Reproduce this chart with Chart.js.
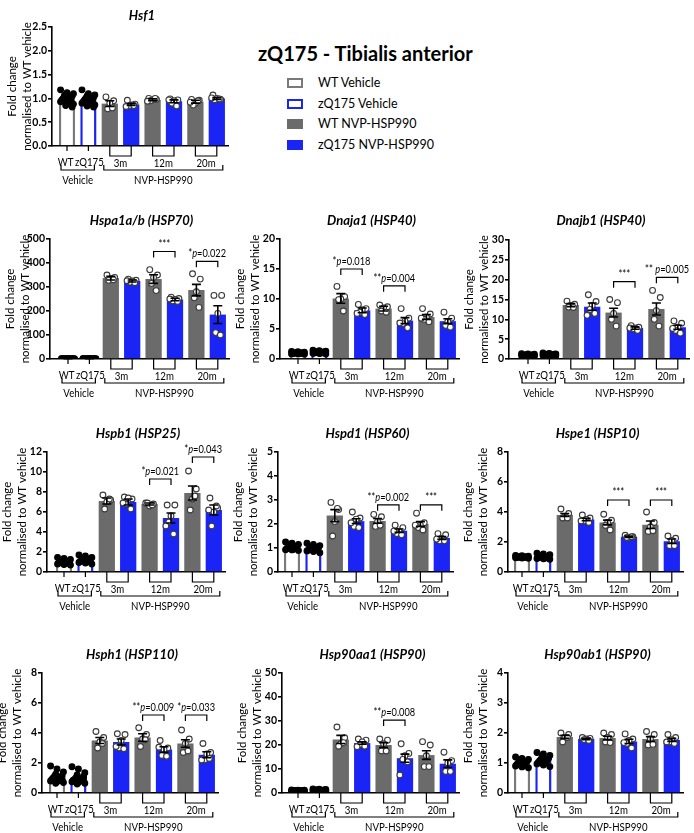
<!DOCTYPE html>
<html>
<head>
<meta charset="utf-8">
<title>zQ175 - Tibialis anterior</title>
<script src="https://cdn.jsdelivr.net/npm/chart.js@4.4.1/dist/chart.umd.min.js"></script>
<style>
  body { margin: 0; background: #fff; }
  #page { position: relative; width: 694px; height: 833px; overflow: hidden; font-family: Lato, "Open Sans", sans-serif; }
  #page canvas { position: absolute; }
  #main-title { position: absolute; left: 258px; top: 41px; font-size: 20px; font-weight: bold; line-height: 24px; color: #000; white-space: nowrap; }
  .lg-box { position: absolute; left: 287px; width: 16px; height: 10px; box-sizing: border-box; }
  .lg-text { position: absolute; left: 318px; font-size: 12.5px; line-height: 16px; color: #000; white-space: nowrap; }
</style>
</head>
<body>
<div id="page">
  <div id="main-title">zQ175 - Tibialis anterior</div>
</div>
<script>
// categories / labels
const groupLabels = ['WT', 'zQ175'];
const ageLabels = ['3m', '12m', '20m'];
const treatLabels = ['Vehicle', 'NVP-HSP990'];
const legendLabels = ['WT Vehicle', 'zQ175 Vehicle', 'WT NVP-HSP990', 'zQ175 NVP-HSP990'];
const geneTitles = ['Hsf1', 'Hspa1a/b (HSP70)', 'Dnaja1 (HSP40)', 'Dnajb1 (HSP40)', 'Hspb1 (HSP25)',
  'Hspd1 (HSP60)', 'Hspe1 (HSP10)', 'Hsph1 (HSP110)', 'Hsp90aa1 (HSP90)', 'Hsp90ab1 (HSP90)'];
const yMaxes = [2.5, 500, 20, 30, 12, 5, 8, 8, 50, 4];
const ySteps = [0.5, 100, 5, 5, 2, 1, 2, 2, 10, 1];

// bar order: WT veh, zQ175 veh, WT 3m, zQ 3m, WT 12m, zQ 12m, WT 20m, zQ 20m
// stats: [age index, bracket height, label]
const hsf1Mean = [1.00, 0.97, 0.89, 0.87, 0.97, 0.94, 0.93, 1.00];
const hsf1Sem = [0.02, 0.02, 0.06, 0.02, 0.02, 0.03, 0.03, 0.02];
const hsf1Pts = [
  [1.18, 1.12, 1.10, 1.08, 1.05, 1.03, 1.02, 1.00, 0.99, 0.97, 0.95, 0.93, 0.90, 0.88, 0.85, 0.82, 1.06, 0.96],
  [1.18, 1.10, 1.07, 1.05, 1.02, 1.00, 0.98, 0.97, 0.95, 0.93, 0.92, 0.90, 0.88, 0.86, 0.84, 0.82, 1.00, 0.96],
  [1.03, 0.95, 0.90, 0.78, 0.80],
  [0.96, 0.88, 0.86, 0.84, 0.85, 0.83],
  [1.00, 0.98, 0.97, 0.95, 1.00, 0.94],
  [0.99, 0.97, 0.95, 0.90, 0.84, 0.97],
  [0.98, 0.96, 0.90, 0.86, 0.95, 0.92],
  [1.07, 0.98, 1.00, 0.97, 0.99, 1.01]
];
const hsf1Stats = [];

const hspa1Mean = [1, 1, 337, 325, 333, 248, 287, 185];
const hspa1Sem = [0.05, 0.05, 8, 4, 18, 5, 24, 37];
const hspa1Pts = [
  [1.4, 1.3, 1.2, 1.15, 1.1, 1.05, 1.0, 1.0, 0.95, 0.9, 0.85, 0.8, 0.7, 0.6],
  [1.6, 1.5, 1.4, 1.3, 1.25, 1.2, 1.1, 1.1, 1.05, 1.0, 0.95, 0.9, 0.8, 0.7],
  [350, 340, 335, 328, 330],
  [333, 328, 325, 320, 318, 326],
  [372, 350, 340, 315, 285],
  [258, 252, 248, 242, 240, 250],
  [355, 333, 280, 255, 215],
  [265, 265, 190, 110, 100]
];
const hspa1Stats = [[1, 448, '***'], [2, 407, '*p=0.022']];

const dnaja1Mean = [1.0, 1.1, 10.1, 8.1, 8.4, 6.4, 7.0, 6.3];
const dnaja1Sem = [0.03, 0.04, 0.8, 0.4, 0.4, 0.5, 0.4, 0.4];
const dnaja1Pts = [
  [1.25, 1.2, 1.15, 1.1, 1.05, 1.0, 1.0, 0.98, 0.95, 0.92, 0.9, 0.85, 0.82, 0.8],
  [1.45, 1.4, 1.3, 1.25, 1.2, 1.15, 1.1, 1.1, 1.05, 1.0, 1.0, 0.95, 0.9, 0.85],
  [12.1, 10.4, 10.0, 9.9, 8.0],
  [9.1, 8.4, 8.2, 7.8, 7.4, 7.6],
  [9.0, 8.7, 8.5, 8.0, 7.8],
  [8.4, 6.8, 6.3, 5.9, 5.2, 6.0],
  [8.4, 7.5, 7.0, 6.6, 6.2, 6.8],
  [7.8, 6.8, 6.2, 5.6, 5.3]
];
const dnaja1Stats = [[0, 15.0, '*p=0.018'], [1, 12.2, '**p=0.004']];

const dnajb1Mean = [1.0, 1.1, 13.6, 13.2, 11.7, 7.8, 12.6, 8.0];
const dnajb1Sem = [0.04, 0.05, 0.4, 0.9, 1.1, 0.3, 1.5, 0.5];
const dnajb1Pts = [
  [1.35, 1.25, 1.2, 1.1, 1.05, 1.0, 1.0, 0.95, 0.95, 0.9, 0.85, 0.8, 0.75, 0.7],
  [1.5, 1.4, 1.3, 1.25, 1.2, 1.15, 1.1, 1.1, 1.05, 1.0, 0.95, 0.9, 0.85, 0.8],
  [14.6, 13.8, 13.5, 13.1, 13.0],
  [16.2, 14.5, 13.5, 12.5, 11.5, 11.0],
  [15.0, 14.2, 11.5, 10.0, 8.3],
  [8.4, 8.0, 7.8, 7.6, 7.2, 7.8],
  [17.3, 15.5, 12.2, 10.0, 8.3],
  [9.6, 9.0, 8.0, 7.2, 6.5, 7.7]
];
const dnajb1Stats = [[1, 19.5, '***'], [2, 20.6, '** p=0.005']];

const hspb1Mean = [1.0, 1.15, 7.1, 7.0, 6.8, 5.4, 7.9, 6.2];
const hspb1Sem = [0.05, 0.06, 0.3, 0.3, 0.1, 0.5, 0.7, 0.5];
const hspb1Pts = [
  [1.45, 1.35, 1.25, 1.2, 1.1, 1.05, 1.0, 1.0, 0.95, 0.9, 0.85, 0.8, 0.75, 0.7],
  [1.7, 1.6, 1.45, 1.35, 1.3, 1.25, 1.2, 1.15, 1.1, 1.05, 1.0, 0.95, 0.9, 0.8],
  [7.7, 7.2, 7.0, 6.3, 7.3],
  [7.5, 7.3, 7.4, 6.8, 6.3, 6.9],
  [6.9, 6.8, 6.6, 6.9, 6.7],
  [6.7, 6.7, 5.6, 5.0, 3.8, 4.6],
  [10.1, 8.3, 7.3, 6.2, 7.6],
  [7.4, 6.4, 6.0, 4.6, 6.6, 6.2]
];
const hspb1Stats = [[1, 9.3, '*p=0.021'], [2, 11.5, '*p=0.043']];

const hspd1Mean = [1.03, 0.98, 2.35, 2.12, 2.13, 1.72, 2.0, 1.42];
const hspd1Sem = [0.02, 0.03, 0.25, 0.1, 0.1, 0.07, 0.1, 0.06];
const hspd1Pts = [
  [1.25, 1.2, 1.15, 1.1, 1.08, 1.05, 1.03, 1.0, 1.0, 0.98, 0.95, 0.93, 0.92, 0.9],
  [1.2, 1.15, 1.1, 1.05, 1.03, 1.0, 1.0, 0.98, 0.95, 0.92, 0.9, 0.88, 0.85, 0.8],
  [2.9, 2.6, 2.1, 1.5, 2.65],
  [2.5, 2.25, 2.2, 1.9, 1.85, 2.05],
  [2.4, 2.3, 2.1, 1.9, 1.95],
  [1.95, 1.85, 1.7, 1.6, 1.55, 1.7],
  [2.45, 2.05, 1.95, 1.85, 1.75, 1.95],
  [1.6, 1.55, 1.4, 1.3, 1.3, 1.37]
];
const hspd1Stats = [[1, 2.8, '**p=0.002'], [2, 2.8, '***']];

const hspe1Mean = [1.0, 1.02, 3.8, 3.5, 3.3, 2.35, 3.15, 2.05];
const hspe1Sem = [0.01, 0.03, 0.1, 0.08, 0.16, 0.04, 0.25, 0.15];
const hspe1Pts = [
  [1.1, 1.08, 1.05, 1.03, 1.02, 1.0, 1.0, 0.99, 0.98, 0.97, 0.96, 0.95, 0.93, 0.92],
  [1.25, 1.2, 1.15, 1.1, 1.05, 1.03, 1.0, 1.0, 0.98, 0.95, 0.92, 0.9, 0.88, 0.85],
  [4.2, 3.9, 3.7, 3.6, 3.6],
  [3.8, 3.6, 3.5, 3.4, 3.3, 3.4],
  [3.85, 3.45, 3.3, 3.1, 2.8],
  [2.45, 2.35, 2.3, 2.3, 2.35],
  [4.0, 3.3, 3.0, 2.7, 2.75],
  [2.4, 2.25, 2.1, 1.75, 1.75]
];
const hspe1Stats = [[1, 4.8, '***'], [2, 4.8, '***']];

const hsph1Mean = [1.05, 0.98, 3.5, 3.4, 3.7, 2.9, 3.3, 2.55];
const hsph1Sem = [0.06, 0.06, 0.2, 0.2, 0.25, 0.18, 0.25, 0.2];
const hsph1Pts = [
  [1.8, 1.6, 1.4, 1.25, 1.15, 1.1, 1.05, 1.0, 0.95, 0.9, 0.85, 0.8, 0.75, 0.7, 0.65, 0.9],
  [1.75, 1.6, 1.35, 1.2, 1.1, 1.0, 0.95, 0.9, 0.9, 0.85, 0.8, 0.75, 0.7, 0.65, 0.6, 0.95],
  [4.1, 3.7, 3.4, 3.0, 3.3],
  [3.95, 3.9, 3.5, 3.0, 2.95, 3.1],
  [4.35, 3.9, 3.6, 3.1, 3.55],
  [3.5, 3.0, 2.9, 2.5, 2.45, 3.05],
  [4.2, 3.6, 3.3, 2.7, 2.8],
  [3.3, 2.7, 2.6, 2.2, 2.3, 2.2]
];
const hsph1Stats = [[1, 5.2, '**p=0.009'], [2, 5.2, '*p=0.033']];

const hsp90aa1Mean = [1.0, 1.2, 22.3, 20.8, 20.0, 14.5, 15.8, 12.2];
const hsp90aa1Sem = [0.05, 0.08, 1.7, 0.5, 1.0, 1.7, 1.8, 1.6];
const hsp90aa1Pts = [
  [1.3, 1.2, 1.15, 1.1, 1.05, 1.0, 1.0, 0.95, 0.95, 0.9, 0.85, 0.8, 0.75, 0.7],
  [1.7, 1.55, 1.45, 1.35, 1.3, 1.25, 1.2, 1.15, 1.1, 1.05, 1.0, 0.95, 0.9, 0.85],
  [27.5, 23.0, 20.5, 19.5, 21.0],
  [22.5, 22.0, 21.3, 20.2, 19.5, 19.3],
  [22.5, 22.0, 20.5, 17.5, 17.5],
  [20.5, 16.5, 15.5, 14.0, 13.0, 7.5],
  [21.4, 20.0, 15.5, 11.0, 11.0],
  [17.0, 13.5, 12.5, 9.0, 9.0]
];
const hsp90aa1Stats = [[1, 30.4, '**p=0.008']];

const hsp90ab1Mean = [1.02, 1.08, 1.87, 1.80, 1.83, 1.72, 1.80, 1.77];
const hsp90ab1Sem = [0.02, 0.03, 0.05, 0.02, 0.06, 0.07, 0.08, 0.05];
const hsp90ab1Pts = [
  [1.2, 1.15, 1.12, 1.1, 1.07, 1.05, 1.03, 1.0, 0.98, 0.95, 0.92, 0.9, 0.87, 0.84],
  [1.35, 1.3, 1.25, 1.2, 1.15, 1.12, 1.1, 1.07, 1.05, 1.02, 1.0, 0.97, 0.93, 0.88],
  [2.0, 1.95, 1.85, 1.7, 1.85],
  [1.85, 1.82, 1.8, 1.78, 1.75],
  [2.0, 1.95, 1.85, 1.7, 1.68],
  [1.97, 1.8, 1.75, 1.65, 1.5, 1.68],
  [2.05, 1.95, 1.8, 1.6, 1.62],
  [1.95, 1.85, 1.78, 1.7, 1.65, 1.7]
];
const hsp90ab1Stats = [];

// colours
const GRAY = '#6b6b6b';
const EDGE_GRAY = '#7a7a7a';
const BLUE = '#1a24f4';
const FONT = 'Lato, "Open Sans", sans-serif';
const SQUEEZE = 0.88; // the original font is narrower than Lato

// page layout of each panel: y-axis x, first bar x, plot top, plot bottom, title y
const boxes = [
  [52, 67, 27, 146, 16],
  [50, 68, 239, 359, 221],
  [280, 298, 239, 359, 221],
  [509, 528, 240, 359, 221],
  [47, 64, 452, 572, 434],
  [278, 292, 452, 572, 434],
  [508, 522, 452, 572, 434],
  [42, 57, 673, 793, 655],
  [282, 298, 673, 793, 655],
  [508, 522, 673, 793, 655]
];

const panels = [
  [hsf1Mean, hsf1Sem, hsf1Pts, hsf1Stats],
  [hspa1Mean, hspa1Sem, hspa1Pts, hspa1Stats],
  [dnaja1Mean, dnaja1Sem, dnaja1Pts, dnaja1Stats],
  [dnajb1Mean, dnajb1Sem, dnajb1Pts, dnajb1Stats],
  [hspb1Mean, hspb1Sem, hspb1Pts, hspb1Stats],
  [hspd1Mean, hspd1Sem, hspd1Pts, hspd1Stats],
  [hspe1Mean, hspe1Sem, hspe1Pts, hspe1Stats],
  [hsph1Mean, hsph1Sem, hsph1Pts, hsph1Stats],
  [hsp90aa1Mean, hsp90aa1Sem, hsp90aa1Pts, hsp90aa1Stats],
  [hsp90ab1Mean, hsp90ab1Sem, hsp90ab1Pts, hsp90ab1Stats]
];

Chart.defaults.font.family = FONT;
Chart.defaults.color = '#000';

const page = document.getElementById('page');

// legend
const legendFill = ['#fff', '#fff', GRAY, BLUE];
const legendEdge = [EDGE_GRAY, BLUE, GRAY, BLUE];
legendLabels.forEach((txt, i) => {
  const cy = 83 + i * 20.5;
  const b = document.createElement('div');
  b.className = 'lg-box';
  b.style.top = (cy - 5) + 'px';
  b.style.background = legendFill[i];
  b.style.border = '2px solid ' + legendEdge[i];
  page.appendChild(b);
  const t = document.createElement('div');
  t.className = 'lg-text';
  t.style.top = (cy - 8) + 'px';
  t.textContent = txt;
  page.appendChild(t);
});

// horizontal spread of the dots inside a bar
function jitter(j, vehicle) {
  if (vehicle) return (((j * 5) % 11) - 5) * 0.06;
  const pattern = [-0.18, 0.18, 0.0, -0.1, 0.12, -0.24, 0.24];
  return pattern[j % pattern.length];
}

// centred text, squeezed a little horizontally
function squeezedText(ctx, text, cx, cy, font) {
  ctx.save();
  ctx.translate(cx, cy);
  ctx.scale(SQUEEZE, 1);
  ctx.font = font;
  ctx.textAlign = 'center';
  ctx.textBaseline = 'middle';
  ctx.fillText(text, 0, 0);
  ctx.restore();
}

// "*p=0.022" -> stars normal, p italic, rest normal
function drawStatLabel(ctx, text, cx, y, size) {
  const m = text.match(/^(\*+\s?)(p?)(.*)$/);
  const runs = [[m[1], 'normal'], [m[2], 'italic'], [m[3], 'normal']];
  let total = 0;
  runs.forEach(r => {
    ctx.font = r[1] + ' ' + size + 'px ' + FONT;
    r.push(ctx.measureText(r[0]).width);
    total += r[2];
  });
  ctx.save();
  ctx.translate(cx, y);
  ctx.scale(SQUEEZE, 1);
  let x = -total / 2;
  ctx.textAlign = 'left';
  ctx.textBaseline = 'bottom';
  runs.forEach(r => {
    ctx.font = r[1] + ' ' + size + 'px ' + FONT;
    ctx.fillText(r[0], x, 0);
    x += r[2];
  });
  ctx.restore();
}

function buildPanel(k) {
  const [means, sems, pts, stats] = panels[k];
  const [axisX, firstX, top, bottom, titleY] = boxes[k];
  const unit = 21.4;
  const L = 50, T = 30, B = 50, R = 6;
  const plotW = Math.round(firstX + 7.5 * unit - axisX);
  const xMin = -(firstX - axisX) / unit;
  const xMax = xMin + plotW / unit;

  const cv = document.createElement('canvas');
  cv.width = plotW + L + R;
  cv.height = (bottom - top) + T + B;
  cv.style.left = (axisX - L) + 'px';
  cv.style.top = (top - T) + 'px';
  cv.style.width = cv.width + 'px';
  cv.style.height = cv.height + 'px';
  page.appendChild(cv);

  const barData = means.map((m, i) => ({x: i, y: m}));
  const dotData = [], dotBg = [], dotEdge = [];
  pts.forEach((vals, i) => {
    const veh = i < 2;
    vals.forEach((v, j) => {
      dotData.push({x: i + jitter(j, veh), y: v});
      dotBg.push(veh ? '#000' : '#fff');
      dotEdge.push(veh ? '#000' : '#3a3a3a');
    });
  });

  const decor = {
    id: 'decor' + k,
    afterDatasetsDraw(chart) {
      const {ctx, chartArea: a, scales: {x, y}} = chart;
      ctx.save();
      ctx.strokeStyle = '#000';
      ctx.fillStyle = '#000';

      // error bars (mean +/- SEM)
      ctx.lineWidth = 1.6;
      means.forEach((m, i) => {
        const cx = x.getPixelForValue(i);
        const yt = y.getPixelForValue(m + sems[i]);
        const yb = y.getPixelForValue(Math.max(0, m - sems[i]));
        ctx.beginPath();
        ctx.moveTo(cx, yt); ctx.lineTo(cx, yb);
        ctx.moveTo(cx - 4.5, yt); ctx.lineTo(cx + 4.5, yt);
        ctx.moveTo(cx - 4.5, yb); ctx.lineTo(cx + 4.5, yb);
        ctx.stroke();
      });

      // significance brackets
      ctx.lineWidth = 1.2;
      stats.forEach(([age, val, label]) => {
        const xa = x.getPixelForValue(2 + 2 * age);
        const xb = x.getPixelForValue(3 + 2 * age);
        const yy = y.getPixelForValue(val);
        ctx.beginPath();
        ctx.moveTo(xa, yy + 6); ctx.lineTo(xa, yy); ctx.lineTo(xb, yy); ctx.lineTo(xb, yy + 6);
        ctx.stroke();
        drawStatLabel(ctx, label, (xa + xb) / 2, yy - 2, 10.5);
      });

      // panel title
      ctx.font = 'italic bold 13px ' + FONT;
      ctx.textAlign = 'center';
      ctx.textBaseline = 'middle';
      ctx.fillText(geneTitles[k], (a.left + a.right) / 2 + 2, titleY - (top - T));

      // grouped x axis
      const y0 = a.bottom;
      const px = i => x.getPixelForValue(i);
      ctx.lineWidth = 1.2;
      ctx.beginPath();
      for (let i = 0; i < 2; i++) { ctx.moveTo(px(i), y0); ctx.lineTo(px(i), y0 + 5); }
      for (let g = 0; g < 3; g++) {
        const xa = px(2 + 2 * g), xb = px(3 + 2 * g);
        ctx.moveTo(xa, y0); ctx.lineTo(xa, y0 + 10); ctx.lineTo(xb, y0 + 10); ctx.lineTo(xb, y0);
      }
      const spans = [[px(0) - 6, px(1) + 6], [px(2) - 6, px(7) + 6]];
      spans.forEach(([xa, xb]) => {
        ctx.moveTo(xa, y0 + 19); ctx.lineTo(xa, y0 + 24); ctx.lineTo(xb, y0 + 24); ctx.lineTo(xb, y0 + 19);
      });
      ctx.stroke();

      const lf = '11px ' + FONT;
      squeezedText(ctx, groupLabels[0], px(0) - 1.5, y0 + 16, lf);
      squeezedText(ctx, groupLabels[1], px(1) + 1, y0 + 16, lf);
      ageLabels.forEach((lab, g) => squeezedText(ctx, lab, (px(2 + 2 * g) + px(3 + 2 * g)) / 2, y0 + 17.5, lf));
      treatLabels.forEach((lab, i) => squeezedText(ctx, lab, (spans[i][0] + spans[i][1]) / 2, y0 + 34, lf));
      ctx.restore();
    }
  };

  new Chart(cv, {
    type: 'bar',
    data: {
      datasets: [
        {
          type: 'scatter',
          data: dotData,
          pointRadius: 2.9,
          pointBackgroundColor: dotBg,
          pointBorderColor: dotEdge,
          pointBorderWidth: 1.1,
          order: 0
        },
        {
          type: 'bar',
          data: barData,
          backgroundColor: ['#fff', '#fff', GRAY, BLUE, GRAY, BLUE, GRAY, BLUE],
          borderColor: [EDGE_GRAY, BLUE, GRAY, BLUE, GRAY, BLUE, GRAY, BLUE],
          borderWidth: [2.5, 2.5, 0, 0, 0, 0, 0, 0],
          categoryPercentage: 1,
          barPercentage: 0.76,
          order: 1
        }
      ]
    },
    options: {
      responsive: false,
      animation: false,
      devicePixelRatio: 1,
      layout: {padding: {top: T, right: R, left: 0, bottom: 0}},
      scales: {
        x: {
          type: 'linear',
          min: xMin,
          max: xMax,
          offset: false,
          grid: {display: false},
          ticks: {display: false},
          border: {color: '#000', width: 1.6},
          afterFit: s => { s.height = B; }
        },
        y: {
          min: 0,
          max: yMaxes[k],
          ticks: {
            stepSize: ySteps[k],
            color: '#000',
            padding: 1,
            font: {size: 10.5, weight: 'bold'},
            callback: v => yMaxes[k] < 3 ? v.toFixed(1) : v
          },
          grid: {drawOnChartArea: false, color: '#000', lineWidth: 1.6, tickLength: 4},
          border: {color: '#000', width: 1.6},
          title: {
            display: true,
            text: ['Fold change', 'normalised to WT vehicle'],
            color: '#000',
            font: {size: 11.5, lineHeight: 1.3},
            padding: {top: 2.5, bottom: 0}
          },
          afterFit: s => { s.width = L; }
        }
      },
      plugins: {legend: {display: false}, tooltip: {enabled: false}}
    },
    plugins: [decor]
  });
}

panels.forEach((p, k) => buildPanel(k));
</script>
</body>
</html>
